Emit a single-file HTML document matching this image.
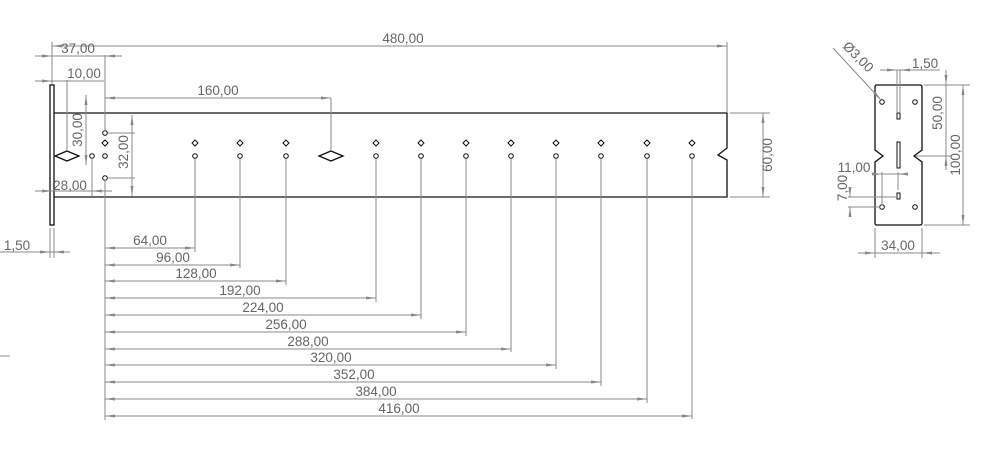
<!DOCTYPE html>
<html><head><meta charset="utf-8"><style>
html,body{margin:0;padding:0;background:#fff;}
svg{display:block;}
text{font-family:"Liberation Sans",sans-serif;font-size:13.5px;fill:#666;}
.d{stroke:#8a8a8a;stroke-width:1;fill:none;}
.o{stroke:#111;stroke-width:1.3;fill:none;}
.h{stroke:#111;stroke-width:1;fill:#fff;}
</style></head><body>
<svg width="994" height="455" viewBox="0 0 994 455" xmlns="http://www.w3.org/2000/svg">
<defs><marker id="a" viewBox="0 0 10 6" refX="10" refY="3" markerWidth="10" markerHeight="6" orient="auto-start-reverse"><path d="M0,1.5 L10,3 L0,4.5z" fill="#888"/></marker></defs>

<rect x="50" y="85" width="4" height="140" class="o" fill="none"/>
<path class="o" d="M54,113 H727 V148 L718,155 L727,160 V197 H54"/>
<path d="M67,151 L79,156 L67,161 L55,156 Z" class="o"/>
<path d="M331,151 L343,156 L331,161 L319,156 Z" class="o"/>
<g class="h">
<circle cx="105" cy="133" r="2.3"/><circle cx="105" cy="156" r="2.3"/><circle cx="105" cy="178" r="2.3"/><circle cx="92" cy="156" r="2.3"/>
<path d="M105,140 l3,3 l-3,3 l-3,-3z"/>
<path d="M195,140 l3,3 l-3,3 l-3,-3z"/><circle cx="195" cy="156" r="2.3"/>
<path d="M240,140 l3,3 l-3,3 l-3,-3z"/><circle cx="240" cy="156" r="2.3"/>
<path d="M286,140 l3,3 l-3,3 l-3,-3z"/><circle cx="286" cy="156" r="2.3"/>
<path d="M376,140 l3,3 l-3,3 l-3,-3z"/><circle cx="376" cy="156" r="2.3"/>
<path d="M421,140 l3,3 l-3,3 l-3,-3z"/><circle cx="421" cy="156" r="2.3"/>
<path d="M466,140 l3,3 l-3,3 l-3,-3z"/><circle cx="466" cy="156" r="2.3"/>
<path d="M511,140 l3,3 l-3,3 l-3,-3z"/><circle cx="511" cy="156" r="2.3"/>
<path d="M556,140 l3,3 l-3,3 l-3,-3z"/><circle cx="556" cy="156" r="2.3"/>
<path d="M601,140 l3,3 l-3,3 l-3,-3z"/><circle cx="601" cy="156" r="2.3"/>
<path d="M647,140 l3,3 l-3,3 l-3,-3z"/><circle cx="647" cy="156" r="2.3"/>
<path d="M692,140 l3,3 l-3,3 l-3,-3z"/><circle cx="692" cy="156" r="2.3"/>
</g>

<g class="d">
<line x1="52" y1="42" x2="52" y2="84"/><line x1="727" y1="42" x2="727" y2="112"/>
<line x1="52" y1="46" x2="727" y2="46" marker-start="url(#a)" marker-end="url(#a)"/>
<line x1="105" y1="55" x2="105" y2="130"/>
<line x1="35" y1="56" x2="122" y2="56"/><line x1="42" y1="56" x2="52" y2="56" marker-end="url(#a)"/><line x1="115" y1="56" x2="105" y2="56" marker-end="url(#a)"/>
<line x1="35" y1="81" x2="104" y2="81"/><line x1="42" y1="81" x2="52" y2="81" marker-end="url(#a)"/><line x1="67" y1="80" x2="67" y2="150"/>
<line x1="105" y1="98" x2="331" y2="98" marker-start="url(#a)" marker-end="url(#a)"/><line x1="331" y1="98" x2="331" y2="150"/>
<line x1="86" y1="95" x2="86" y2="165" marker-start="url(#a)" marker-end="url(#a)"/>
<line x1="108" y1="133" x2="135" y2="133"/><line x1="108" y1="178" x2="135" y2="178"/>
<line x1="132" y1="115" x2="132" y2="196" marker-start="url(#a)" marker-end="url(#a)"/>
<line x1="92" y1="158" x2="92" y2="196"/>
<line x1="35" y1="191" x2="112" y2="191"/><line x1="42" y1="191" x2="52" y2="191" marker-end="url(#a)"/><line x1="102" y1="191" x2="92" y2="191" marker-end="url(#a)"/>
<line x1="50" y1="228" x2="50" y2="258"/><line x1="54" y1="228" x2="54" y2="258"/>
<line x1="0" y1="252" x2="70" y2="252"/><line x1="40" y1="252" x2="50" y2="252" marker-end="url(#a)"/><line x1="64" y1="252" x2="54" y2="252" marker-end="url(#a)"/>
<line x1="730" y1="113" x2="770" y2="113"/><line x1="730" y1="197" x2="770" y2="197"/>
<line x1="763" y1="113" x2="763" y2="197" marker-start="url(#a)" marker-end="url(#a)"/>
<line x1="0" y1="356" x2="10" y2="356"/>
</g>
<text x="403" y="43" text-anchor="middle">480,00</text>
<text x="78" y="53" text-anchor="middle">37,00</text>
<text x="84" y="78" text-anchor="middle">10,00</text>
<text x="218" y="95" text-anchor="middle">160,00</text>
<text x="70" y="190" text-anchor="middle">28,00</text>
<text x="17" y="250" text-anchor="middle">1,50</text>
<text transform="translate(82,130) rotate(-90)" text-anchor="middle">30,00</text>
<text transform="translate(128,152) rotate(-90)" text-anchor="middle">32,00</text>
<text transform="translate(772,155) rotate(-90)" text-anchor="middle">60,00</text>

<g class="d">
<line x1="105" y1="180" x2="105" y2="420"/>
<line x1="195" y1="159" x2="195" y2="252"/><line x1="240" y1="159" x2="240" y2="268"/><line x1="286" y1="159" x2="286" y2="285"/>
<line x1="376" y1="159" x2="376" y2="302"/><line x1="421" y1="159" x2="421" y2="319"/><line x1="466" y1="159" x2="466" y2="336"/>
<line x1="511" y1="159" x2="511" y2="352"/><line x1="556" y1="159" x2="556" y2="369"/><line x1="601" y1="159" x2="601" y2="386"/>
<line x1="647" y1="159" x2="647" y2="403"/><line x1="692" y1="159" x2="692" y2="419"/>
<line x1="105" y1="248" x2="195" y2="248" marker-start="url(#a)" marker-end="url(#a)"/>
<line x1="105" y1="265" x2="240" y2="265" marker-start="url(#a)" marker-end="url(#a)"/>
<line x1="105" y1="281" x2="286" y2="281" marker-start="url(#a)" marker-end="url(#a)"/>
<line x1="105" y1="298" x2="376" y2="298" marker-start="url(#a)" marker-end="url(#a)"/>
<line x1="105" y1="315" x2="421" y2="315" marker-start="url(#a)" marker-end="url(#a)"/>
<line x1="105" y1="332" x2="466" y2="332" marker-start="url(#a)" marker-end="url(#a)"/>
<line x1="105" y1="349" x2="511" y2="349" marker-start="url(#a)" marker-end="url(#a)"/>
<line x1="105" y1="365" x2="556" y2="365" marker-start="url(#a)" marker-end="url(#a)"/>
<line x1="105" y1="382" x2="601" y2="382" marker-start="url(#a)" marker-end="url(#a)"/>
<line x1="105" y1="399" x2="647" y2="399" marker-start="url(#a)" marker-end="url(#a)"/>
<line x1="105" y1="416" x2="692" y2="416" marker-start="url(#a)" marker-end="url(#a)"/>
</g>
<g text-anchor="middle">
<text x="150" y="245">64,00</text><text x="173" y="262">96,00</text><text x="196" y="278">128,00</text>
<text x="240" y="295">192,00</text><text x="263" y="312">224,00</text><text x="286" y="329">256,00</text>
<text x="308" y="346">288,00</text><text x="331" y="362">320,00</text><text x="354" y="379">352,00</text>
<text x="376" y="396">384,00</text><text x="399" y="413">416,00</text>
</g>

<path class="o" d="M877,85 H920 Q922,85 922,87 V150 L914,156 L922,162 V223 Q922,225 920,225 H877 Q875,225 875,223 V162 L883,156 L875,150 V87 Q875,85 877,85 Z"/>
<g class="h">
<circle cx="882" cy="102" r="2.3"/><circle cx="915" cy="102" r="2.3"/><circle cx="882" cy="207" r="2.3"/><circle cx="915" cy="207" r="2.3"/>
<rect x="897" y="113" width="3" height="6"/><rect x="897" y="193" width="3" height="6"/><rect x="897" y="142" width="3" height="26"/>
</g>
<g class="d">
<line x1="833" y1="48" x2="881" y2="100" marker-end="url(#a)"/>
<line x1="897" y1="70" x2="897" y2="112"/><line x1="900" y1="70" x2="900" y2="112"/>
<line x1="880" y1="70" x2="940" y2="70"/><line x1="887" y1="70" x2="897" y2="70" marker-end="url(#a)"/><line x1="910" y1="70" x2="900" y2="70" marker-end="url(#a)"/>
<line x1="924" y1="85" x2="970" y2="85"/><line x1="924" y1="225" x2="970" y2="225"/><line x1="915" y1="156" x2="952" y2="156"/>
<line x1="963" y1="85" x2="963" y2="225" marker-start="url(#a)" marker-end="url(#a)"/>
<line x1="946" y1="70" x2="946" y2="85" marker-end="url(#a)"/><line x1="946" y1="85" x2="946" y2="156"/><line x1="946" y1="170" x2="946" y2="156" marker-end="url(#a)"/>
<line x1="875" y1="228" x2="875" y2="258"/><line x1="922" y1="228" x2="922" y2="258"/>
<line x1="858" y1="253" x2="940" y2="253"/><line x1="865" y1="253" x2="875" y2="253" marker-end="url(#a)"/><line x1="932" y1="253" x2="922" y2="253" marker-end="url(#a)"/>
<line x1="882" y1="172" x2="882" y2="205"/><line x1="898" y1="172" x2="898" y2="190"/>
<line x1="872" y1="174" x2="908" y2="174" /><line x1="872" y1="174" x2="882" y2="174" marker-end="url(#a)"/><line x1="908" y1="174" x2="898" y2="174" marker-end="url(#a)"/>
<line x1="848" y1="197" x2="896" y2="197"/><line x1="848" y1="207" x2="880" y2="207"/>
<line x1="850" y1="187" x2="850" y2="197" marker-end="url(#a)"/><line x1="850" y1="217" x2="850" y2="207" marker-end="url(#a)"/>
</g>
<text transform="translate(855,60) rotate(45)" text-anchor="middle">Ø3,00</text>
<text x="925" y="68" text-anchor="middle">1,50</text>
<text transform="translate(942,113) rotate(-90)" text-anchor="middle">50,00</text>
<text transform="translate(960,155) rotate(-90)" text-anchor="middle">100,00</text>
<text x="898" y="250" text-anchor="middle">34,00</text>
<text x="854" y="172" text-anchor="middle">11,00</text>
<text transform="translate(847,188) rotate(-90)" text-anchor="middle">7,00</text>
</svg>
</body></html>
